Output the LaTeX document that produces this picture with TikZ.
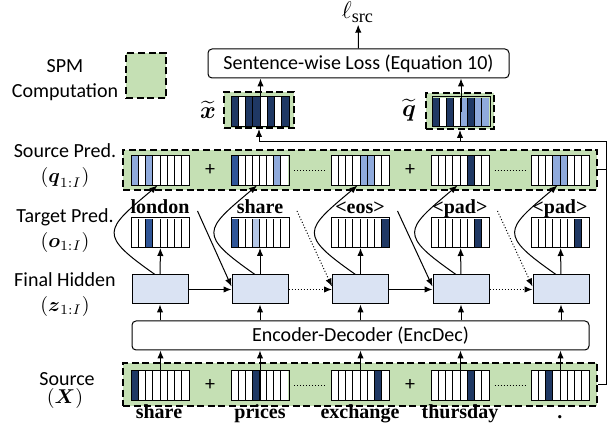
\documentclass[tikz,border=0pt]{standalone}
\usepackage{amsmath}
\usepackage{amssymb}
\usepackage{fontspec}
\setmainfont{Carlito}
\newfontfamily\wordfont{Liberation Serif}
\usetikzlibrary{
    arrows.meta,
    calc,
    positioning
}

\definecolor{spmgreen}{HTML}{C5E0B4}
\definecolor{hidblue}{HTML}{DAE3F3}
\definecolor{vw}{HTML}{FFFFFF}
\definecolor{vd}{HTML}{1F3864}
\definecolor{vm}{HTML}{2F5597}
\definecolor{vl}{HTML}{8FAADC}
\definecolor{vp}{HTML}{B4C7E7}

\tikzset{
    spmbox/.style={draw, fill=spmgreen, line width=1pt, dash pattern=on 3.5pt off 1.8pt, inner sep=0pt},
    vecbox/.style={minimum width=28.5pt, minimum height=14.5pt, inner sep=0pt},
    hidbox/.style={draw, fill=hidblue, minimum width=28pt, minimum height=14.5pt, inner sep=0pt},
    bigbox/.style={draw, rounded corners=2pt, fill=white, minimum height=14.5pt, inner sep=0pt},
    word/.style={font=\wordfont\bfseries\fontsize{10}{12}\selectfont, anchor=base, inner sep=0pt},
    side/.style={align=center, font=\fontsize{10}{12.5}\selectfont},
    tilde/.style={inner sep=0pt, font=\fontsize{12}{14}\selectfont}
}

% one vector of 8 cells: name, x, y, cell colours
\newcommand{\cellvec}[4]{%
    \node[vecbox] (#1) at (#2,#3) {};
    \foreach \col [count=\i] in {#4}
        \fill[fill=\col] ($(#1.south west)+({(\i-1)*7.125},0)$) rectangle ++(7.125,-29);
    \foreach \i in {1,...,7}
        \draw ($(#1.south west)+({\i*7.125},0)$) -- ++(0,-29);
    \draw (#1.south west) rectangle (#1.north east);
}

\begin{document}
\begin{tikzpicture}[x=0.5pt, y=-0.5pt, line width=0.5pt, font=\fontsize{10}{12}\selectfont,
    >={Latex[length=4pt,width=3.2pt]}]
    \useasboundingbox (0,0) rectangle (607,431);

    % legend and side labels
    \node[spmbox, minimum width=20pt, minimum height=22.5pt] (legend) at (146,75.5) {};
    \node[side] (lspm) at (65,80) {SPM\\Computation};
    \node[side] (lpred) at (65,166) {Source Pred.\\$(\boldsymbol{q}_{1:I})$};
    \node[side] (ltgt) at (65,231) {Target Pred.\\$(\boldsymbol{o}_{1:I})$};
    \node[side] (lhid) at (65,295) {Final Hidden\\$(\boldsymbol{z}_{1:I})$};
    \node[inner sep=0pt] (lsrc) at (67,379) {Source};
    \node[inner sep=0pt] (lx) at (65,399) {$(\boldsymbol{X})$};

    % SPM boxes
    \node[spmbox, minimum width=237pt, minimum height=20pt] (pred) at (360,170) {};
    \node[spmbox, minimum width=237pt, minimum height=21.5pt] (srcx) at (360,384.5) {};
    \node[spmbox, minimum width=35pt, minimum height=18pt] (xt) at (259,110) {};
    \node[spmbox, minimum width=34pt, minimum height=18pt] (qt) at (460,111) {};

    % loss
    \node[bigbox, minimum width=150.5pt] (loss) at (358.5,63.5) {Sentence-wise Loss (Equation 10)};
    \node[font=\fontsize{13}{14}\selectfont, inner sep=1pt] (lout) at (358,12) {$\ell_{\text{\wordfont src}}$};
    \node[tilde] (lxt) at (208,110) {$\widetilde{\boldsymbol{x}}$};
    \node[tilde] (lqt) at (409,110) {$\widetilde{\boldsymbol{q}}$};
    \cellvec{xv}{260.5}{111.5}{vd,vw,vd,vd,vw,vd,vw,vd}
    \cellvec{qv}{461}{112}{vd,vw,vd,vw,vl,vd,vl,vl}

    % source prediction
    \cellvec{q1}{160.5}{170.5}{vl,vw,vl,vw,vw,vw,vw,vw}
    \cellvec{q2}{260}{170.5}{vm,vw,vw,vw,vw,vw,vl,vw}
    \cellvec{q3}{360.5}{170.5}{vw,vw,vw,vw,vl,vl,vw,vw}
    \cellvec{q4}{460.5}{170.5}{vw,vw,vw,vw,vw,vd,vw,vw}
    \cellvec{q5}{560.5}{170.5}{vw,vw,vw,vl,vl,vw,vw,vw}

    % target prediction
    \cellvec{t1}{160.5}{233}{vw,vw,vm,vw,vw,vw,vw,vw}
    \cellvec{t2}{260}{233}{vm,vw,vw,vp,vw,vw,vw,vw}
    \cellvec{t3}{360.5}{233}{vw,vw,vw,vw,vw,vw,vw,vd}
    \cellvec{t4}{460.5}{233}{vw,vw,vw,vw,vw,vw,vd,vw}
    \cellvec{t5}{560.5}{233}{vw,vw,vw,vw,vw,vw,vd,vw}

    % source
    \cellvec{s1}{160.5}{385.5}{vd,vw,vw,vw,vw,vw,vw,vw}
    \cellvec{s2}{260}{385.5}{vw,vw,vw,vd,vw,vw,vw,vw}
    \cellvec{s3}{360.5}{385.5}{vw,vw,vw,vw,vw,vw,vd,vw}
    \cellvec{s4}{460.5}{385.5}{vw,vw,vw,vw,vw,vd,vw,vw}
    \cellvec{s5}{560.5}{385.5}{vw,vw,vd,vw,vw,vw,vw,vw}

    \node (p1) at (210,170) {+};
    \node (p2) at (410,170) {+};
    \node (p3) at (210,385) {+};
    \node (p4) at (410,385) {+};
    \draw[densely dotted] ($(q2.east)+(5,0)$) -- ($(q3.west)+(-5,0)$);
    \draw[densely dotted] ($(q4.east)+(5,0)$) -- ($(q5.west)+(-5,0)$);
    \draw[densely dotted] ($(s2.east)+(5,0)$) -- ($(s3.west)+(-5,0)$);
    \draw[densely dotted] ($(s4.east)+(5,0)$) -- ($(s5.west)+(-5,0)$);

    % words
    \node[word] (w1) at (160,214) {london};
    \node[word] (w2) at (260,214) {share};
    \node[word] (w3) at (360,214) {<eos>};
    \node[word] (w4) at (460,214) {<pad>};
    \node[word] (w5) at (560,214) {<pad>};
    \node[word] (x1) at (159,419) {share};
    \node[word] (x2) at (260,419) {prices};
    \node[word] (x3) at (360,419) {exchange};
    \node[word] (x4) at (460,419) {thursday};
    \node[word] (x5) at (560,419) {.};

    % hidden states and encoder-decoder
    \node[hidbox] (h1) at (160,289.5) {};
    \node[hidbox] (h2) at (260,289.5) {};
    \node[hidbox] (h3) at (360.5,289.5) {};
    \node[hidbox] (h4) at (461,289.5) {};
    \node[hidbox] (h5) at (561,289.5) {};
    \node[bigbox, minimum width=228.5pt] (enc) at (360.5,335.5) {Encoder-Decoder (EncDec)};

    \foreach \i in {1,...,5} {
        \draw[->] (s\i.south) -- (s\i |- enc.south);
        \draw[->] (h\i |- enc.north) -- (h\i.south);
        \draw[->] (h\i) -- (t\i);
        \draw[->] ($(h\i.north)+(-5,0)$) to[out=145,in=220,looseness=2] ($(q\i.south)+(-3,0)$);
    }

    \draw
    (h1) edge[->] (h2)
    (h2) edge[->, densely dotted] (h3)
    (h3) edge[->] (h4)
    (h4) edge[->, densely dotted] (h5);

    \draw[->] ($(t1.north east)+(8,-7)$) -- ($(h2.west)+(0,-3)$);
    \draw[->, densely dotted] ($(t2.north east)+(8,-7)$) -- ($(h3.west)+(0,-3)$);
    \draw[->] ($(t3.north east)+(8,-7)$) -- ($(h4.west)+(0,-3)$);
    \draw[->, densely dotted] ($(t4.north east)+(8,-7)$) -- ($(h5.west)+(0,-3)$);

    % to the loss
    \coordinate (bus) at (606,142);
    \draw[->] (srcx.east) -| (bus) -| (xt.south);
    \draw (pred.east) -- (pred.east -| bus);
    \draw[->] (qt.south |- bus) -- (qt.south);
    \draw[->] (xv.center) -- (xv |- loss.south);
    \draw[->] (qv.center) -- (qv |- loss.south);
    \draw[->] (loss.north) -- (lout);
\end{tikzpicture}
\end{document}
